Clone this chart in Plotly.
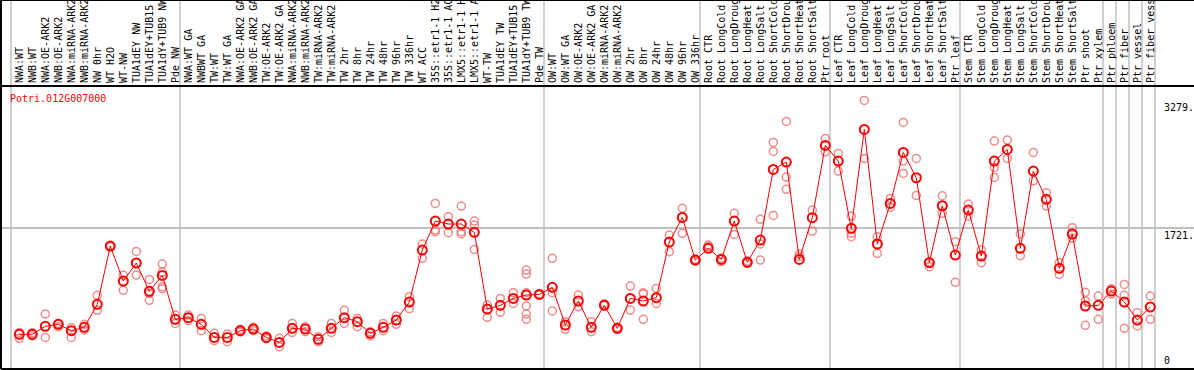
import plotly.graph_objects as go

gene = "Potri.012G007000"

categories = [
    "NWA:WT", "NWB:WT", "NWA:OE-ARK2", "NWB:OE-ARK2", "NWA:miRNA-ARK2", "NWB:miRNA-ARK2",
    "NW 0hr", "WT H2O", "WT-NW", "TUA1dEY NW", "TUA1dEY+TUB15", "TUA1dY+TUB9 NW", "Pde NW",
    "NWA:WT GA", "NWBWT GA", "TW:WT", "TW:WT GA", "NWA:OE-ARK2 GA", "NWB:OE-ARK2 GA",
    "TW:OE-ARK2", "TW:OE-ARK2 GA", "NWA:miRNA-ARK2 GA", "NWB:miRNA-ARK2 GA", "TW:miRNA-ARK2",
    "TW:miRNA-ARK2", "TW 2hr", "TW 8hr", "TW 24hr", "TW 48hr", "TW 96hr", "TW 336hr", "WT ACC",
    "35S::etr1-1 H2O", "35S::etr1-1 ACC", "LMX5::etr1-1 H2O", "LMX5::etr1-1 ACC", "WT-TW",
    "TUA1dEY TW", "TUA1dEY+TUB15", "TUA1dY+TUB9 TW", "Pde TW",
    "OW:WT", "OW:WT GA", "OW:OE-ARK2", "OW:OE-ARK2 GA", "OW:miRNA-ARK2", "OW:miRNA-ARK2",
    "OW 2hr", "OW 8hr", "OW 24hr", "OW 48hr", "OW 96hr", "OW 336hr",
    "Root CTR", "Root LongCold", "Root LongDrought", "Root LongHeat", "Root LongSalt",
    "Root ShortCold", "Root ShortDrought", "Root ShortHeat", "Root ShortSalt", "Ptr root",
    "Leaf CTR", "Leaf LongCold", "Leaf LongDrought", "Leaf LongHeat", "Leaf LongSalt",
    "Leaf ShortCold", "Leaf ShortDrought", "Leaf ShortHeat", "Leaf ShortSalt", "Ptr leaf",
    "Stem CTR", "Stem LongCold", "Stem LongDrought", "Stem LongHeat", "Stem LongSalt",
    "Stem ShortCold", "Stem ShortDrought", "Stem ShortHeat", "Stem ShortSalt", "Ptr shoot",
    "Ptr xylem", "Ptr phloem", "Ptr fiber", "Ptr vessel", "Ptr fiber vessel",
]

mean_values = [
    423, 423, 521, 545, 468, 509, 789, 1501, 1074, 1294, 948, 1143, 606,
    626, 545, 386, 386, 468, 488, 386, 325, 496, 488, 362, 496, 626, 578, 435, 509, 598,
    818, 1452, 1806, 1770, 1770, 1668, 732, 777, 862, 903, 911,
    997, 537, 830, 509, 777, 496, 862, 830, 871, 1550, 1851, 1330,
    1473, 1338, 1806, 1302, 1574, 2437, 2526, 1338, 1847, 2730,
    2538, 1717, 2925, 1526, 2022, 2644, 2335, 1298, 1993, 1391,
    1940, 1379, 2538, 2681, 1473, 2416, 2071, 1229, 1648, 769, 777,
    952, 818, 598, 757,
]

replicates = [
    [447, 374], [443, 403], [671, 386], [557, 517], [504, 386], [545, 476],
    [899, 716], [1509, 1493], [1147, 960], [1436, 1147], [1094, 923, 838],
    [1281, 1184, 1005, 980], [659, 557],
    [659, 590], [618, 468], [435, 346], [427, 334], [484, 452], [509, 468],
    [403, 370], [374, 273], [557, 447], [517, 456], [395, 334], [557, 447],
    [716, 557], [618, 517], [456, 403], [557, 468], [647, 545],
    [883, 736], [1526, 1351], [2022, 1696, 1676], [1859, 1664], [1989, 1676, 1648],
    [1806, 1757, 1460], [781, 631], [862, 692], [932, 801],
    [1208, 1159, 932, 769, 671, 606], [920, 902],
    [1351, 932, 708], [578, 484], [903, 761], [578, 456], [797, 777], [509, 484],
    [1013, 720], [932, 915, 606], [984, 801], [1635, 1432], [1961, 1656], [1343, 1318],
    [1513, 1493], [1351, 1310], [1900, 1643], [1318, 1290], [1827, 1526, 1330],
    [2766, 2656, 1875], [3023, 2343, 2193], [1403, 1371], [1940, 1684], [2815, 2652],
    [2632, 2416], [1867, 1656, 1615], [3279, 2571], [1615, 1412], [2083, 1973],
    [3010, 2538, 2388], [2571, 2119], [1310, 1249], [2115, 1900], [1554, 1058],
    [2014, 1867], [1452, 1298], [2783, 2461, 2339], [2795, 2571], [1648, 1383],
    [2644, 2298], [2152, 1989], [1298, 1155], [1725, 1595], [936, 834, 533],
    [891, 606], [980, 915], [1033, 899, 496], [687, 525], [891, 606],
]

# group boundaries (index of first category of each block), plus end
group_starts = [0, 13, 41, 53, 63, 73, 84, 85, 86, 87, 88]

y_max_label = 3279
y_mid_label = 1721
y_top = 3455

mono = "DejaVu Sans Mono"
idx = list(range(len(categories)))

# x axis: category i centred in its 13 px cell (slightly right)
x0, x1 = -1.4077, 90.3615

def to_paper(xv):
    return (xv - x0) / (x1 - x0)

rep_x, rep_y = [], []
for i, reps in enumerate(replicates):
    for v in reps:
        rep_x.append(i)
        rep_y.append(v)

fig = go.Figure()
fig.add_trace(go.Scatter(
    x=rep_x, y=rep_y, mode="markers",
    marker=dict(symbol="circle-open", size=8, color="rgba(235,120,120,0.85)",
                line=dict(width=1.5, color="rgba(235,120,120,0.85)")),
    hoverinfo="skip", showlegend=False,
))
fig.add_trace(go.Scatter(
    x=idx, y=mean_values, mode="lines+markers",
    line=dict(color="#ff0000", width=1),
    marker=dict(symbol="circle-open", size=9, color="#ff0000",
                line=dict(width=2, color="#ff0000")),
    showlegend=False,
))

top_paper = 1 + 86 / 283
shapes = []
for k in group_starts:
    px = to_paper(k - 0.638)
    shapes.append(dict(type="line", xref="paper", yref="paper", x0=px, x1=px,
                       y0=0, y1=top_paper, line=dict(color="#c0c0c0", width=1.5),
                       layer="below"))
# frame
for yy in [0, 1, top_paper]:
    shapes.append(dict(type="line", xref="paper", yref="paper", x0=0, x1=1,
                       y0=yy, y1=yy, line=dict(color="black", width=2)))
shapes.append(dict(type="line", xref="paper", yref="paper", x0=0, x1=0,
                   y0=0, y1=top_paper, line=dict(color="black", width=2)))

lab_x = to_paper(88 - 0.638) + 0.006
annotations = [
    dict(text=gene, xref="paper", yref="paper", x=to_paper(-0.85), y=1 - 5 / 283,
         xanchor="left", yanchor="top", showarrow=False,
         font=dict(family=mono, size=10, color="#ff0000")),
    dict(text=f"{y_max_label}.", xref="paper", yref="y", x=lab_x, y=y_max_label,
         xanchor="left", yanchor="top", showarrow=False,
         font=dict(family=mono, size=10, color="black")),
    dict(text=f"{y_mid_label}.", xref="paper", yref="y", x=lab_x, y=y_mid_label,
         xanchor="left", yanchor="top", showarrow=False,
         font=dict(family=mono, size=10, color="black")),
    dict(text="0", xref="paper", yref="y", x=lab_x, y=0,
         xanchor="left", yanchor="bottom", yshift=1, showarrow=False,
         font=dict(family=mono, size=10, color="black")),
]

fig.update_layout(
    width=1194, height=370, autosize=False,
    margin=dict(l=1, r=0, t=86, b=1, pad=0),
    paper_bgcolor="white", plot_bgcolor="white",
    shapes=shapes, annotations=annotations,
    xaxis=dict(range=[x0, x1], side="top", tickmode="array", tickvals=idx,
               ticktext=categories, tickangle=-90, ticks="", showgrid=False,
               zeroline=False, showline=False, automargin=False,
               tickfont=dict(family=mono, size=10, color="black"),
               ticklabelstandoff=2),
    yaxis=dict(range=[0, y_top], tickmode="array", tickvals=[y_mid_label],
               showticklabels=False, showgrid=True, gridcolor="#c0c0c0", gridwidth=1.5,
               zeroline=False, showline=False, automargin=False),
)

fig.write_html(
    "out.html",
    config={"displayModeBar": False},
    post_script="document.body.style.margin='0';document.body.style.overflow='hidden';",
)
